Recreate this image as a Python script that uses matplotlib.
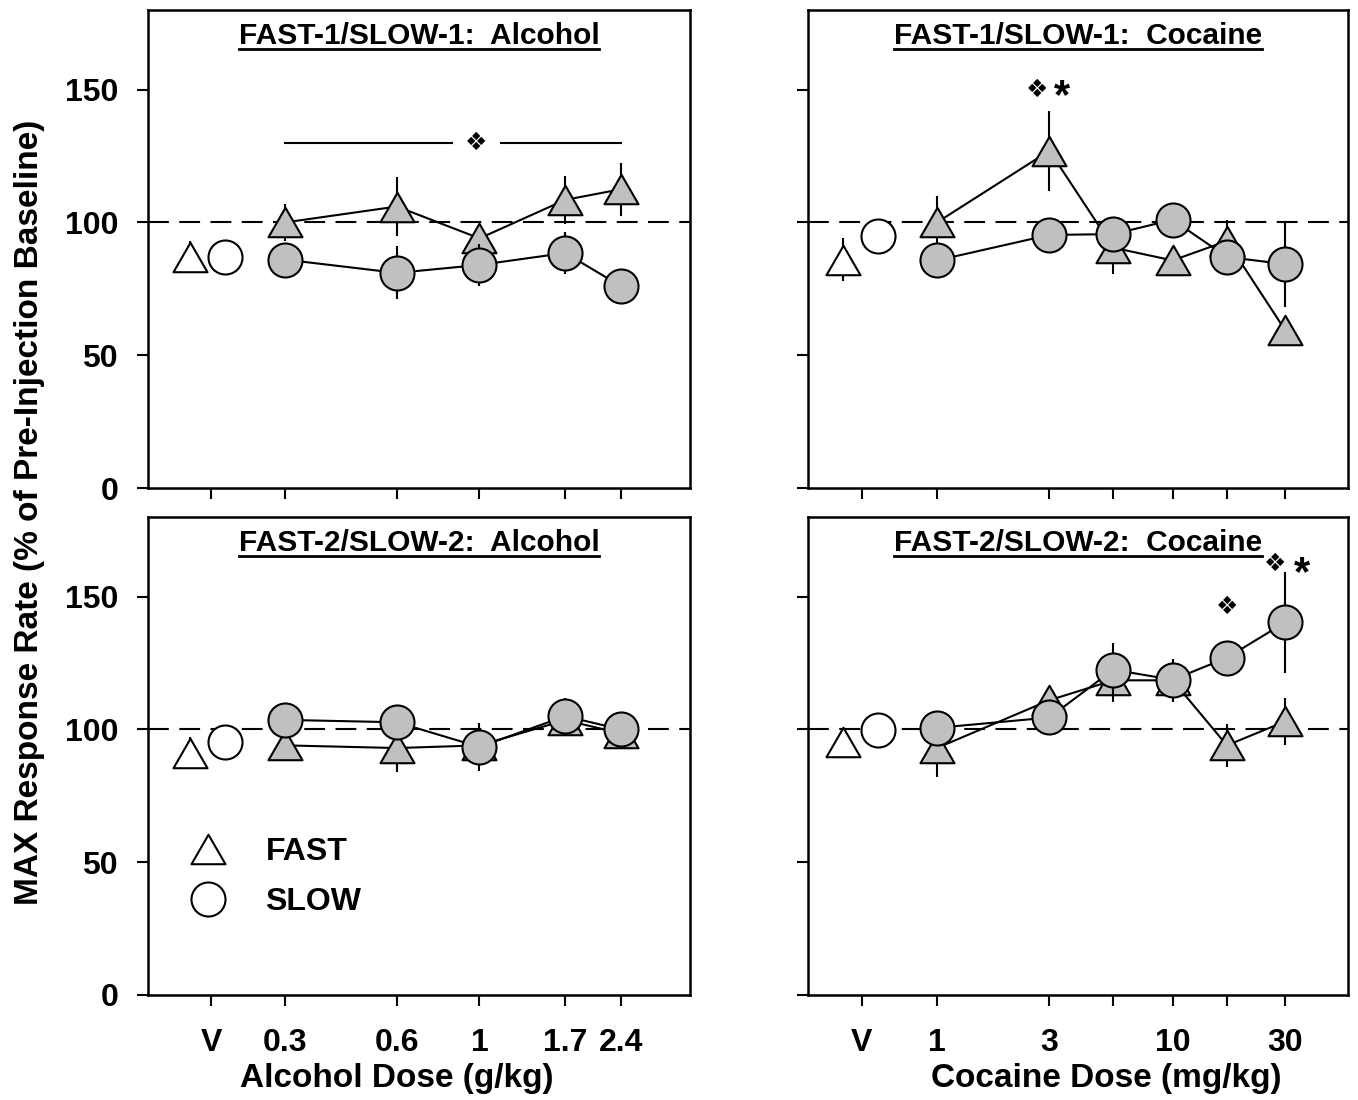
import matplotlib
matplotlib.use("Agg")
import matplotlib.pyplot as plt
from matplotlib.lines import Line2D
from matplotlib.path import Path
from matplotlib.ticker import NullLocator

plt.rcParams["font.family"] = ["Liberation Sans", "DejaVu Sans"]
plt.rcParams["font.weight"] = "bold"

# doses (log axis), vehicle is drawn left of the lowest dose
alc_doses = [0.3, 0.6, 1, 1.7, 2.4]
coc_doses = [1, 3, 5.6, 10, 17, 30]
alc_ticks = [0.19, 0.3, 0.6, 1, 1.7, 2.4]
alc_ticklabels = ["V", "0.3", "0.6", "1", "1.7", "2.4"]
coc_ticks = [0.48, 1, 3, 5.6, 10, 17, 30]
coc_ticklabels = ["V", "1", "3", "", "10", "", "30"]
alc_veh_x = [0.167, 0.207]   # FAST, SLOW vehicle positions
coc_veh_x = [0.40, 0.56]

# FAST-1/SLOW-1 alcohol
a1_veh = [87, 87]
a1_veh_err = [6, 2]
a1_fast = [100, 106, 94, 108.5, 112.5]
a1_fast_err = [7, 11, 4, 9, 10]
a1_slow = [86, 81, 84, 88.5, 76]
a1_slow_err = [4, 10, 8, 8, 3]

# FAST-1/SLOW-1 cocaine
c1_veh = [86, 95]
c1_veh_err = [8, 3]
c1_fast = [100, 127, 90.5, 85.7, 93, 59.5]
c1_fast_err = [10, 15, 10, 3, 8, 3]
c1_slow = [85.7, 95.3, 95.6, 101, 87, 84.3]
c1_slow_err = [3, 3, 3, 3, 3, 16]

# FAST-2/SLOW-2 alcohol
a2_veh = [91, 95.3]
a2_veh_err = [6, 2]
a2_fast = [94, 93, 94, 103.5, 98.5]
a2_fast_err = [3, 9, 4, 3, 3]
a2_slow = [103.6, 102.7, 93.4, 105, 100]
a2_slow_err = [3, 3, 9, 7, 3]

# FAST-2/SLOW-2 cocaine
c2_veh = [95.4, 99.8]
c2_veh_err = [3, 2]
c2_fast = [93, 111, 118.5, 118.5, 94, 103]
c2_fast_err = [11, 4, 8, 8, 8, 9]
c2_slow = [100.6, 104.5, 122.5, 118.7, 127, 140.3]
c2_slow_err = [3, 3, 10, 7, 3, 19]

GRAY = "#c0c0c0"
TRI = Path([(0, 0.866), (-1, -0.866), (1, -0.866), (0, 0.866)], closed=True)
MS = 24.5
LW = 1.5

fig = plt.figure(figsize=(13.58, 11), dpi=100)
W, H = 1358, 1100


def make_ax(x0, y0, x1, y1):
    return fig.add_axes([x0 / W, 1 - y1 / H, (x1 - x0) / W, (y1 - y0) / H])


ax_a1 = make_ax(148, 10, 690, 488)
ax_c1 = make_ax(808, 10, 1348, 488)
ax_a2 = make_ax(148, 517, 690, 995)
ax_c2 = make_ax(808, 517, 1348, 995)


def draw_panel(ax, doses, veh_x, veh, veh_err, fast, fast_err, slow, slow_err):
    ax.axhline(100, color="black", lw=LW, ls=(0, (10, 5)), zorder=1)
    # FAST
    ax.errorbar(doses, fast, yerr=fast_err, fmt="none", ecolor="black",
                elinewidth=LW, capsize=0, zorder=2)
    ax.plot(doses, fast, "-", color="black", lw=LW, marker=TRI, ms=MS,
            mfc=GRAY, mec="black", mew=LW, zorder=3)
    ax.errorbar([veh_x[0]], [veh[0]], yerr=[veh_err[0]], fmt="none",
                ecolor="black", elinewidth=LW, capsize=0, zorder=2)
    ax.plot([veh_x[0]], [veh[0]], marker=TRI, ms=MS, mfc="white",
            mec="black", mew=LW, ls="none", zorder=3)
    # SLOW
    ax.errorbar(doses, slow, yerr=slow_err, fmt="none", ecolor="black",
                elinewidth=LW, capsize=0, zorder=4)
    ax.plot(doses, slow, "-", color="black", lw=LW, marker="o", ms=MS,
            mfc=GRAY, mec="black", mew=LW, zorder=5)
    ax.errorbar([veh_x[1]], [veh[1]], yerr=[veh_err[1]], fmt="none",
                ecolor="black", elinewidth=LW, capsize=0, zorder=4)
    ax.plot([veh_x[1]], [veh[1]], marker="o", ms=MS, mfc="white",
            mec="black", mew=LW, ls="none", zorder=5)


draw_panel(ax_a1, alc_doses, alc_veh_x, a1_veh, a1_veh_err,
           a1_fast, a1_fast_err, a1_slow, a1_slow_err)
draw_panel(ax_c1, coc_doses, coc_veh_x, c1_veh, c1_veh_err,
           c1_fast, c1_fast_err, c1_slow, c1_slow_err)
draw_panel(ax_a2, alc_doses, alc_veh_x, a2_veh, a2_veh_err,
           a2_fast, a2_fast_err, a2_slow, a2_slow_err)
draw_panel(ax_c2, coc_doses, coc_veh_x, c2_veh, c2_veh_err,
           c2_fast, c2_fast_err, c2_slow, c2_slow_err)

panels = [
    (ax_a1, (0.1285, 3.68), alc_ticks, alc_ticklabels, "FAST-1/SLOW-1:  Alcohol", False, True),
    (ax_c1, (0.2835, 55.5), coc_ticks, coc_ticklabels, "FAST-1/SLOW-1:  Cocaine", False, False),
    (ax_a2, (0.1285, 3.68), alc_ticks, alc_ticklabels, "FAST-2/SLOW-2:  Alcohol", True, True),
    (ax_c2, (0.2835, 55.5), coc_ticks, coc_ticklabels, "FAST-2/SLOW-2:  Cocaine", True, False),
]

titles = []
for ax, xlim, ticks, labels, title, show_x, show_y in panels:
    ax.set_xscale("log")
    ax.set_xlim(*xlim)
    ax.set_ylim(0, 180)
    ax.set_xticks(ticks)
    ax.set_xticklabels(labels)
    ax.xaxis.set_minor_locator(NullLocator())
    ax.set_yticks([0, 50, 100, 150])
    for s in ax.spines.values():
        s.set_linewidth(1.8)
    ax.tick_params(axis="both", direction="out", length=8, width=1.5,
                   labelsize=23)
    ax.tick_params(axis="y", pad=13.5, labelleft=show_y)
    ax.tick_params(axis="x", pad=16, labelbottom=show_x)
    t = ax.text(0.5, 0.928, title, transform=ax.transAxes, ha="center",
                va="baseline", fontsize=21.5, fontweight="bold", zorder=6)
    titles.append((ax, t))

ax_a2.set_xlabel("Alcohol Dose (g/kg)", fontsize=24, fontweight="bold")
ax_a2.xaxis.set_label_coords(0.459, -0.142)
ax_c2.set_xlabel("Cocaine Dose (mg/kg)", fontsize=24, fontweight="bold")
ax_c2.xaxis.set_label_coords(0.552, -0.142)

fig.text(30 / W, 1 - 512 / H, "MAX Response Rate (% of Pre-Injection Baseline)",
         rotation=90, ha="center", va="center", fontsize=24, fontweight="bold")

# significance marks
ax_a1.plot([0.3, 2.4], [130, 130], color="black", lw=LW, zorder=2)
ax_a1.text(0.98, 130, "\u2756", ha="center", va="center", fontsize=18,
           zorder=3, bbox=dict(fc="white", ec="none", pad=9))
ax_c1.text(2.66, 150, "\u2756", ha="center", va="center", fontsize=18)
ax_c1.text(3.4, 143, "*", ha="center", va="baseline", fontsize=30, fontweight="bold")
ax_c2.text(17, 146, "\u2756", ha="center", va="center", fontsize=18)
ax_c2.text(27.3, 162.5, "\u2756", ha="center", va="center", fontsize=18)
ax_c2.text(35.5, 154.5, "*", ha="center", va="baseline", fontsize=30, fontweight="bold")

# legend
handles = [
    Line2D([], [], ls="none", marker=TRI, ms=MS, mfc="white", mec="black", mew=LW),
    Line2D([], [], ls="none", marker="o", ms=MS, mfc="white", mec="black", mew=LW),
]
ax_a2.legend(handles, ["FAST", "SLOW"], loc="center left",
             bbox_to_anchor=(0.0517, 0.247), frameon=False,
             borderpad=0, borderaxespad=0, handlelength=2, handletextpad=0.8,
             labelspacing=0.62, prop={"weight": "bold", "size": 23})

# underline the panel titles
fig.canvas.draw()
inv = fig.transFigure.inverted()
for ax, t in titles:
    bb = t.get_window_extent()
    ybase = ax.transAxes.transform((0.5, 0.928))[1] - 5
    (x0, y0), (x1, y1) = inv.transform([(bb.x0, ybase), (bb.x1, ybase)])
    fig.add_artist(Line2D([x0, x1], [y0, y1], transform=fig.transFigure,
                          color="black", lw=2))

fig.savefig("out.png", dpi=100)
